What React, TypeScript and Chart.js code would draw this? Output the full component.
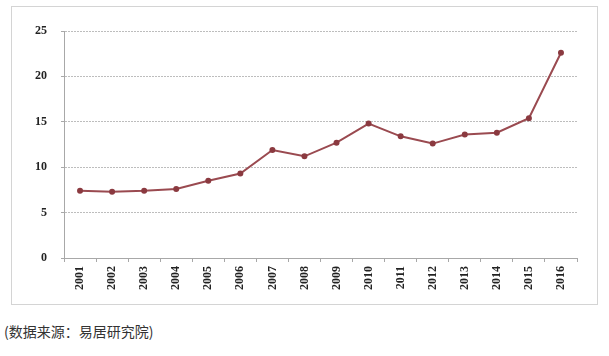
import React, { useEffect, useRef } from "react";
import { Chart, registerables } from "chart.js";

Chart.register(...registerables);

const years = ["2001","2002","2003","2004","2005","2006","2007","2008","2009","2010","2011","2012","2013","2014","2015","2016"];
const values = [7.4, 7.3, 7.4, 7.6, 8.5, 9.3, 11.9, 11.2, 12.7, 14.8, 13.4, 12.6, 13.6, 13.8, 15.4, 22.6];
const yTicks = [0, 5, 10, 15, 20, 25];
const caption = "(数据来源：易居研究院)";

export default function App() {
  const ref = useRef<HTMLCanvasElement>(null);
  useEffect(() => {
    if (!ref.current) return;
    const font = { family: "'Liberation Serif', 'DejaVu Serif', serif", size: 12, weight: "bold" as const };
    const chart = new Chart(ref.current, {
      type: "line",
      data: {
        labels: years,
        datasets: [{
          data: values,
          borderColor: "#9a4a50",
          backgroundColor: "#8b3a40",
          pointBackgroundColor: "#8b3a40",
          pointBorderColor: "#8b3a40",
          pointRadius: 2,
          borderWidth: 2,
          tension: 0,
        }],
      },
      options: {
        animation: false,
        responsive: false,
        maintainAspectRatio: false,
        layout: { padding: { top: 24, right: 20, bottom: 0, left: 0 } },
        plugins: { legend: { display: false }, tooltip: { enabled: false } },
        scales: {
          x: {
            type: "category",
            offset: true,
            grid: { display: true, drawOnChartArea: false, drawTicks: true, tickLength: 4, offset: true, color: "#a8a8a8" },
            border: { display: true, color: "#a8a8a8" },
            ticks: { font, color: "#222", minRotation: 90, maxRotation: 90, padding: 4, autoSkip: false },
            afterFit: (s: any) => { s.height = 46; },
          },
          y: {
            min: 0,
            max: 25,
            afterBuildTicks: (s: any) => { s.ticks = yTicks.map((v) => ({ value: v })); },
            grid: { color: "#bdbdbd", tickLength: 3, tickColor: "#a8a8a8", tickBorderDash: [] },
            border: { display: true, color: "#a8a8a8", dash: [2, 1] },
            ticks: { font, color: "#222", padding: 14 },
            afterFit: (s: any) => { s.width = 52; },
          },
        },
      },
    } as any);
    return () => chart.destroy();
  }, []);
  return (
    <div style={{ position: "absolute", left: 0, top: 0, width: 609, height: 356, background: "#fff" }}>
      <div style={{ position: "absolute", left: 11, top: 6, width: 585, height: 297, border: "1px solid #d4d4d4" }}>
        <canvas ref={ref} width={585} height={297} style={{ display: "block", width: 585, height: 297 }} />
      </div>
      <div style={{ position: "absolute", left: 4, top: 321, fontFamily: "'Noto Sans CJK SC', sans-serif", fontSize: 14, color: "#333", whiteSpace: "nowrap", lineHeight: "20px" }}>
        {caption}
      </div>
    </div>
  );
}
